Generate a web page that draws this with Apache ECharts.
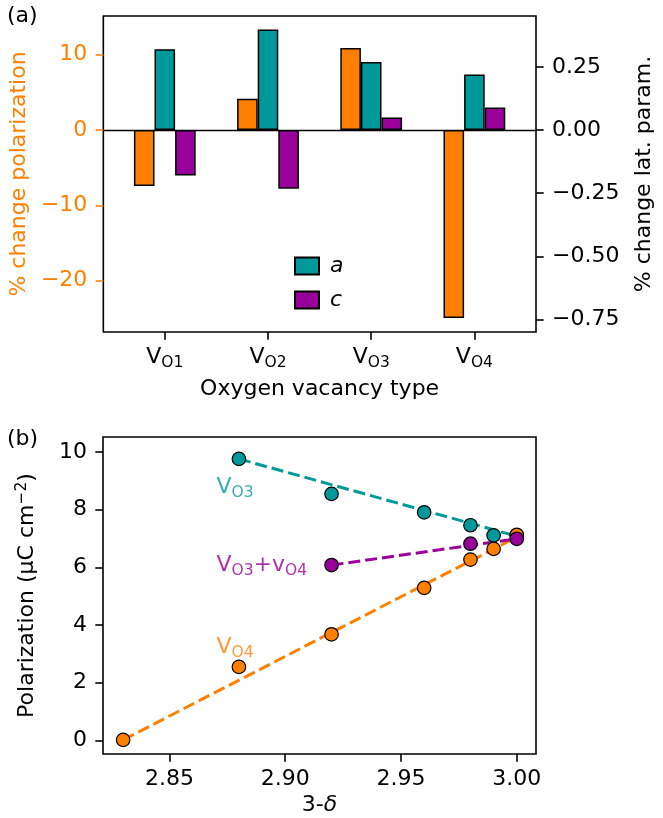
<!DOCTYPE html>
<html>
<head>
<meta charset="utf-8">
<script src="https://cdn.jsdelivr.net/npm/echarts@6/dist/echarts.min.js"></script>
<style>
html, body { margin: 0; padding: 0; background: #fff; }
#main { width: 663px; height: 818px; }
</style>
</head>
<body>
<div id="main"></div>
<script>
// panel (a): % change per vacancy type
var vacancies = ['O1', 'O2', 'O3', 'O4'];
var polChange = [-7.44, 4.12, 10.86, -24.95];
var latA = [0.320, 0.399, 0.270, 0.220];
var latC = [-0.180, -0.232, 0.050, 0.089];
var polTicks = [-20, -10, 0, 10];
var latTicks = [-0.75, -0.5, -0.25, 0, 0.25];

// panel (b): polarization vs 3-delta
var vo3Pts = [[2.88, 9.76], [2.92, 8.55], [2.96, 7.91], [2.98, 7.46], [2.99, 7.11], [3.00, 7.10]];
var vo4Pts = [[2.83, 0.02], [2.88, 2.55], [2.92, 3.68], [2.96, 5.29], [2.98, 6.27], [2.99, 6.64], [3.00, 7.13]];
var vo34Pts = [[2.92, 6.08], [2.98, 6.82], [3.00, 6.99]];
var vo3Fit = [[2.88, 9.76], [3.00, 7.08]];
var vo4Fit = [[2.83, 0.02], [3.00, 7.05]];
var vo34Fit = [[2.92, 6.08], [3.00, 6.99]];
var deltaTicks = [2.85, 2.90, 2.95, 3.00];
var polTicksB = [0, 2, 4, 6, 8, 10];

var orange = '#ff8000', teal = '#009999', purple = '#990099';
var font = 'DejaVu Sans';
var fs = 22;

function minus(s) { return String(s).replace('-', '\u2212'); }

var subRich = { s: { fontSize: 15.5, padding: [11, 0, 0, 0] } };

function note(txt, color, pos) {
    return {
        type: 'scatter', xAxisIndex: 2, yAxisIndex: 4, silent: true,
        symbolSize: 0.1, itemStyle: { color: 'transparent' },
        data: [pos],
        label: {
            show: true, position: 'right', distance: 0,
            formatter: txt, color: color, fontSize: fs, fontFamily: font,
            rich: { s: { fontSize: 15.5, color: color, padding: [11, 0, 0, 0] } }
        },
        z: 5
    };
}

function fitLine(data, color) {
    return {
        type: 'line', xAxisIndex: 2, yAxisIndex: 4, data: data,
        showSymbol: false, silent: true,
        lineStyle: { color: color, width: 3, type: [12, 5] },
        z: 2
    };
}

function points(data, color) {
    return {
        type: 'scatter', xAxisIndex: 2, yAxisIndex: 4, data: data,
        symbolSize: 13.5,
        itemStyle: { color: color, borderColor: '#000', borderWidth: 1.2, opacity: 1 },
        z: 3
    };
}

var chart = echarts.init(document.getElementById('main'));

chart.setOption({
    animation: false,
    textStyle: { fontFamily: font },
    title: [
        { text: '(a)', left: 7, top: 5, padding: 0, textStyle: { fontSize: fs, fontWeight: 'normal', color: '#000', fontFamily: font } },
        { text: '(b)', left: 7, top: 428, padding: 0, textStyle: { fontSize: fs, fontWeight: 'normal', color: '#000', fontFamily: font } }
    ],
    legend: {
        data: ['a', 'c'], orient: 'vertical', left: 294, top: 255, padding: 0,
        itemWidth: 24, itemHeight: 17, itemGap: 12, icon: 'rect',
        textStyle: { fontSize: fs, fontStyle: 'italic', color: '#000', fontFamily: font, padding: [0, 0, 0, 6] }
    },
    grid: [
        { left: 103, top: 16, width: 433, height: 316, show: true, borderColor: '#000', borderWidth: 1.6, backgroundColor: 'transparent' },
        { left: 113.2, top: 16, width: 412.8, height: 316 },
        { left: 103, top: 437, width: 433, height: 317, show: true, borderColor: '#000', borderWidth: 1.6, backgroundColor: 'transparent' }
    ],
    xAxis: [
        {
            gridIndex: 0, type: 'value', min: 0, max: 1,
            axisLine: { show: true, onZero: true, lineStyle: { color: '#000', width: 1.4 } },
            axisTick: { show: false }, axisLabel: { show: false }, splitLine: { show: false }
        },
        {
            gridIndex: 1, type: 'category', data: vacancies, position: 'bottom',
            axisLine: { show: false, onZero: false },
            axisTick: { show: true, alignWithLabel: true, interval: 0, length: 7.7, lineStyle: { color: '#000', width: 1.6 } },
            axisLabel: {
                interval: 0, margin: 12, fontSize: fs, color: '#000', fontFamily: font,
                formatter: function (v) { return 'V{s|' + v + '}'; },
                rich: subRich
            },
            name: 'Oxygen vacancy type', nameLocation: 'middle', nameGap: 46,
            nameTextStyle: { fontSize: fs, color: '#000', fontFamily: font }
        },
        {
            gridIndex: 2, type: 'value', min: 2.8213, max: 3.0083,
            axisLine: { show: false, onZero: false },
            axisTick: { show: true, length: 7.7, customValues: deltaTicks, lineStyle: { color: '#000', width: 1.6 } },
            axisLabel: {
                customValues: deltaTicks, margin: 14, fontSize: fs, color: '#000', fontFamily: font,
                formatter: function (v) { return v.toFixed(2); }
            },
            splitLine: { show: false },
            name: '3-{i|\u03b4}', nameLocation: 'middle', nameGap: 40,
            nameTextStyle: { fontSize: fs, color: '#000', fontFamily: font, rich: { i: { fontStyle: 'italic', fontSize: fs } } }
        }
    ],
    yAxis: [
        {
            gridIndex: 0, type: 'value', position: 'left', min: -26.8, max: 15.1,
            axisLine: { show: false },
            axisTick: { show: true, length: 7.7, customValues: polTicks, lineStyle: { color: orange, width: 1.6 } },
            axisLabel: { customValues: polTicks, margin: 16, fontSize: fs, color: orange, fontFamily: font, formatter: function (v) { return minus(v); } },
            splitLine: { show: false },
            name: '% change polarization', nameLocation: 'middle', nameGap: 62,
            nameTextStyle: { fontSize: fs, color: orange, fontFamily: font }
        },
        {
            gridIndex: 0, type: 'value', position: 'right', min: -0.8, max: 0.452,
            axisLine: { show: false },
            axisTick: { show: true, length: 7.7, customValues: latTicks, lineStyle: { color: '#000', width: 1.6 } },
            axisLabel: { customValues: latTicks, margin: 16, fontSize: fs, color: '#000', fontFamily: font, formatter: function (v) { return minus(v.toFixed(2)); } },
            splitLine: { show: false },
            name: '% change lat. param.', nameLocation: 'middle', nameGap: 97,
            nameTextStyle: { fontSize: fs, color: '#000', fontFamily: font }
        },
        { gridIndex: 1, type: 'value', min: -26.8, max: 15.1, show: false },
        { gridIndex: 1, type: 'value', min: -0.8, max: 0.452, show: false },
        {
            gridIndex: 2, type: 'value', min: -0.47, max: 10.52,
            axisLine: { show: false },
            axisTick: { show: true, length: 7.7, customValues: polTicksB, lineStyle: { color: '#000', width: 1.6 } },
            axisLabel: { customValues: polTicksB, margin: 16, fontSize: fs, color: '#000', fontFamily: font },
            splitLine: { show: false },
            name: 'Polarization (\u03bcC cm{p|\u22122})', nameLocation: 'middle', nameGap: 62,
            nameTextStyle: { fontSize: fs, color: '#000', fontFamily: font, rich: { p: { fontSize: 15.5, padding: [0, 0, 11, 0] } } }
        }
    ],
    series: [
        {
            name: 'P', type: 'bar', xAxisIndex: 1, yAxisIndex: 2, data: polChange,
            barWidth: 20.6, barGap: '0%',
            itemStyle: { color: orange, borderColor: '#000', borderWidth: 1.5 }
        },
        {
            name: 'a', type: 'bar', xAxisIndex: 1, yAxisIndex: 3, data: latA,
            barWidth: 20.6, barGap: '0%',
            itemStyle: { color: teal, borderColor: '#000', borderWidth: 1.5 }
        },
        {
            name: 'c', type: 'bar', xAxisIndex: 1, yAxisIndex: 3, data: latC,
            barWidth: 20.6, barGap: '0%',
            itemStyle: { color: purple, borderColor: '#000', borderWidth: 1.5 }
        },
        fitLine(vo3Fit, teal),
        fitLine(vo4Fit, orange),
        fitLine(vo34Fit, purple),
        points(vo3Pts, teal),
        points(vo4Pts, orange),
        points(vo34Pts, purple),
        note('V{s|O3}', teal, [2.8703, 8.76]),
        note('V{s|O3}+v{s|O4}', purple, [2.8703, 6.06]),
        note('V{s|O4}', orange, [2.8703, 3.22])
    ]
});
</script>
</body>
</html>
